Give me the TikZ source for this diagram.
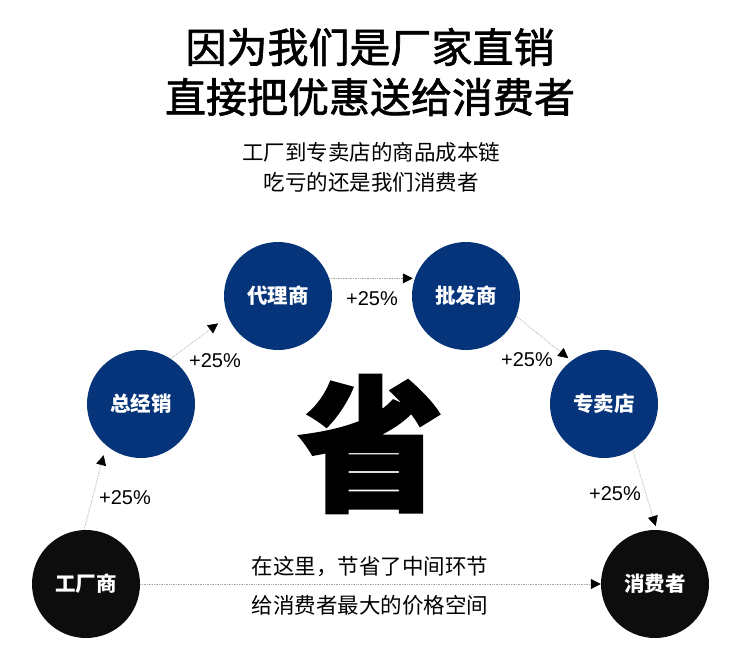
\documentclass[tikz,border=0pt]{standalone}
\usepackage{fontspec}
\setmainfont{Liberation Sans}
\newfontfamily\cjk{Noto Sans CJK SC}
\newfontfamily\cjkmed[FakeBold=1.6]{Noto Sans CJK SC}
\newfontfamily\cjkheavy[BoldFeatures={FakeBold=2}]{Noto Sans CJK SC}
\usetikzlibrary{arrows.meta}
\definecolor{navy}{RGB}{6,52,122}
\definecolor{dotgray}{RGB}{165,165,165}
\begin{document}
\begin{tikzpicture}[x=1pt,y=-1pt,
 stage/.style={circle,minimum size=108pt,inner sep=0pt,text=white,font=\cjk\bfseries\fontsize{20.5}{24}\selectfont},
 bluestage/.style={stage,fill=navy},
 blackstage/.style={stage,fill=black!95},
 link/.style={dotgray,densely dotted,line width=0.7pt,-{Triangle[length=10pt,width=10pt,color=black]}},
 pct/.style={font=\fontsize{20}{24}\selectfont,inner sep=0pt},
 cjktext/.style={font=\cjk\fontsize{21.5}{24}\selectfont,inner sep=0pt}
]
\useasboundingbox[fill=white] (0,0) rectangle (750,669);
% titles
\node[font=\cjkmed\fontsize{41}{41}\selectfont,inner sep=0pt] (t1) at (370,47) {因为我们是厂家直销};
\node[font=\cjkmed\fontsize{41}{41}\selectfont,inner sep=0pt] (t2) at (370,97) {直接把优惠送给消费者};
\node[cjktext] (s1) at (371,152) {工厂到专卖店的商品成本链};
\node[cjktext] (s2) at (371,182) {吃亏的还是我们消费者};
% stages
\node[blackstage] (fac) at (86,584) {工厂商};
\node[bluestage] (dist) at (141,404) {总经销};
\node[bluestage] (agent) at (278,296) {代理商};
\node[bluestage] (whole) at (466,296) {批发商};
\node[bluestage] (shop) at (604,404) {专卖店};
\node[blackstage] (cons) at (655,584) {消费者};
% links
\draw[link,shorten >=10pt] (fac.92) -- (dist.230);
\draw[link,shorten >=12pt] (dist.57) -- (agent.202);
\draw[link,shorten >=2pt] (agent.19) -- (whole.161);
\draw[link,shorten >=4pt] (whole.-22) -- (shop.127);
\draw[link,shorten >=4pt] (shop.-58) -- (cons.88);
\draw[link] (fac.east) -- (cons.west);
% percentages
\node[pct] (p1) at (125,498) {+25\%};
\node[pct] (p2) at (215,361) {+25\%};
\node[pct] (p3) at (372,299) {+25\%};
\node[pct] (p4) at (527,360) {+25\%};
\node[pct] (p5) at (615,494) {+25\%};
% big character
\node[inner sep=0pt] (sheng) at (371,444) {\cjkheavy\bfseries\fontsize{145}{145}\selectfont 省};
% bottom text
\node[cjktext] (b1) at (370,567) {在这里，节省了中间环节};
\node[cjktext] (b2) at (370,605) {给消费者最大的价格空间};
\end{tikzpicture}
\end{document}
